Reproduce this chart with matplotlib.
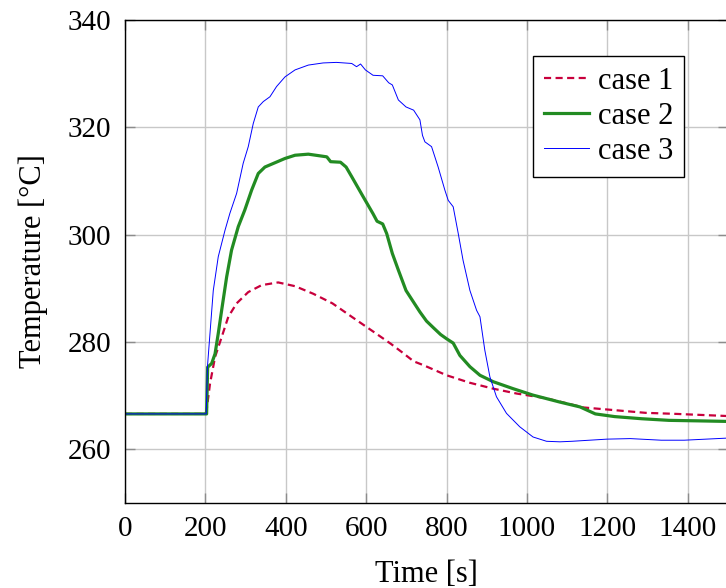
import matplotlib.pyplot as plt

plt.rcParams['font.family'] = ['Liberation Serif', 'DejaVu Serif']

# case 1 (red dashed)
t1 = [0, 200, 203, 211.4, 224, 240.4, 257, 277.7, 306.6, 340, 381, 423, 468, 516,
      564, 612.5, 660.6, 689, 718, 741.8, 800, 858, 916, 974, 1048.6, 1141, 1218,
      1295, 1372, 1500]
T1 = [266.6, 266.6, 267.3, 272.2, 277.2, 280.9, 284.7, 287.2, 289.3, 290.6, 291.1,
      290.4, 289.0, 287.2, 284.7, 282.2, 279.7, 278.1, 276.4, 275.7, 273.8, 272.4,
      271.3, 270.4, 269.5, 267.8, 267.3, 266.8, 266.6, 266.2]

# case 2 (green thick)
t2 = [0, 200, 203, 205.6, 215.6, 224, 232, 240.4, 252.8, 265, 281.8, 298, 315,
      331.5, 348, 373, 398, 423, 456, 493, 502, 511.5, 536, 550, 564, 593, 617, 627,
      641, 651, 665, 680, 699, 718, 733.6, 750, 768, 785, 800, 816.4, 833, 858, 883,
      916, 965.6, 1015, 1082, 1132, 1170, 1218, 1285.6, 1353, 1430, 1500]
T2 = [266.6, 266.6, 266.6, 275.3, 276.0, 277.8, 281.6, 285.9, 292.1, 297.1, 301.5,
      304.6, 308.3, 311.4, 312.6, 313.4, 314.2, 314.8, 315.0, 314.6, 314.5, 313.6,
      313.5, 312.6, 310.8, 307.0, 303.9, 302.5, 302.0, 300.2, 296.5, 293.4, 289.6,
      287.4, 285.6, 283.9, 282.6, 281.4, 280.6, 279.8, 277.5, 275.4, 273.8, 272.6,
      271.3, 270.1, 268.8, 267.9, 266.6, 266.1, 265.7, 265.4, 265.3, 265.2]

# case 3 (blue thin)
t3 = [0, 200, 202, 205, 211.4, 219.6, 232, 248.7, 261, 277.7, 294, 306.6, 319,
      331.5, 344, 360.6, 377, 398, 423, 456, 493, 526, 564, 576, 586, 598, 617, 641,
      656, 665, 680, 699, 718, 733.6, 740, 746, 762.6, 779, 795.7, 804, 816.4, 829,
      841, 858, 874.6, 883, 895, 907.7, 924, 949, 982, 1015, 1048.6, 1082, 1112,
      1199, 1257, 1334, 1391, 1500]
T3 = [266.6, 266.6, 266.6, 275.3, 281.6, 289.6, 295.9, 300.8, 304.0, 307.7, 313.3,
      316.4, 320.7, 323.8, 324.8, 325.7, 327.6, 329.4, 330.7, 331.6, 332.0, 332.1,
      331.9, 331.3, 331.8, 330.7, 329.7, 329.6, 328.3, 327.9, 325.1, 323.8, 323.2,
      321.4, 318.5, 317.3, 316.4, 312.6, 308.3, 306.4, 305.2, 300.2, 295.2, 289.6,
      285.9, 284.7, 278.5, 273.5, 269.8, 266.7, 264.2, 262.3, 261.5, 261.4, 261.5,
      261.9, 262.0, 261.7, 261.7, 262.1]

xticks = [0, 200, 400, 600, 800, 1000, 1200, 1400]
yticks = [260, 280, 300, 320, 340]

fig = plt.figure(figsize=(7.26, 5.88), dpi=100)
ax = fig.add_axes([125 / 726, 1 - 503 / 588, 603 / 726, 483 / 588])

ax.plot(t1, T1, color='#c8003c', lw=1.6, dashes=(3.2, 2.0), label='case 1')
ax.plot(t2, T2, color='#228b22', lw=2.3, label='case 2')
ax.plot(t3, T3, color='#0000ff', lw=0.7, label='case 3')

ax.set_xlim(0, 1500)
ax.set_ylim(250, 340)
ax.set_xticks(xticks)
ax.set_yticks(yticks)
ax.grid(True, color='#c8c8c8', lw=1.0)
ax.set_axisbelow(True)
ax.tick_params(direction='in', length=7.5, width=1.0, color='0.55',
               top=True, right=True, labelsize=21)
ax.tick_params(axis='x', pad=9)
ax.tick_params(axis='y', pad=10)
for s in ax.spines.values():
    s.set_linewidth(1.0)

ax.set_xlabel('Time [s]', fontsize=22, labelpad=13)
ax.set_ylabel('Temperature [°C]', fontsize=22, labelpad=14)

leg = ax.legend(loc='upper right', bbox_to_anchor=(684 / 726, 1 - 56 / 588),
                bbox_transform=fig.transFigure, fontsize=22, frameon=True,
                fancybox=False, framealpha=1, edgecolor='black',
                handlelength=1.5, handletextpad=0.28, labelspacing=0.2,
                borderpad=0.35, borderaxespad=0)
leg.get_frame().set_linewidth(1.0)

fig.savefig('out.png', dpi=100)
